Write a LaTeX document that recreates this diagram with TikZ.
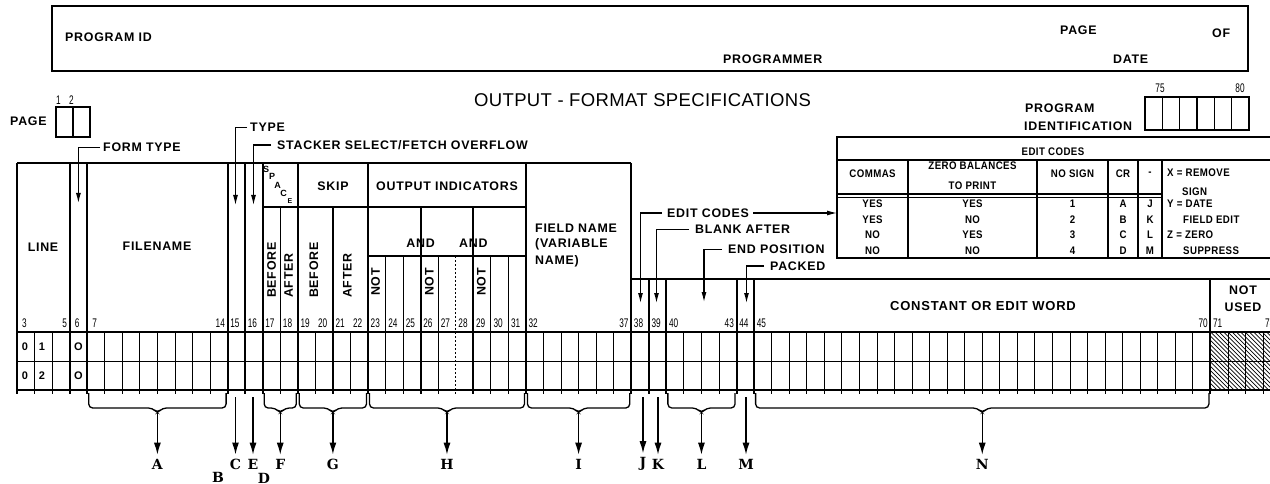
\documentclass[tikz,border=0pt]{standalone}
\usepackage{fontspec}
\setmainfont{Liberation Sans}
\newfontfamily\labf[LetterSpace=6]{Liberation Sans}
\newfontfamily\tblf[LetterSpace=4,FakeStretch=0.88]{Liberation Sans}
\newfontfamily\titf[LetterSpace=2]{Liberation Sans}
\newfontfamily\numf[FakeStretch=0.66]{Liberation Sans}
\newfontfamily\letf{DejaVu Serif}
\usetikzlibrary{arrows.meta}
\newcommand\colx[1]{(17+(#1-3)*17.55)}
\tikzset{
  lbl/.style={font=\labf\bfseries\fontsize{12.4}{14}\selectfont, inner sep=0pt},
  tbl/.style={font=\tblf\bfseries\fontsize{11}{12}\selectfont, inner sep=0pt},
  sml/.style={font=\labf\bfseries\fontsize{9}{10}\selectfont, inner sep=0pt},
  colnum/.style={font=\numf\fontsize{12.5}{13}\selectfont, inner sep=0pt},
  rowtxt/.style={font=\bfseries\fontsize{11}{12}\selectfont, inner sep=0pt},
  letr/.style={font=\letf\bfseries\fontsize{14}{15}\selectfont, inner sep=0pt},
  gthin/.style={line width=0.9pt},
  gmed/.style={line width=1.4pt},
  gthick/.style={line width=2pt},
  frame/.style={line width=1.7pt},
  sarrow/.style={line width=1.1pt, -{Latex[length=10pt,width=5pt]}},
  barrow/.style={line width=1.3pt, -{Latex[length=12pt,width=7pt]}, shorten >=4pt},
  brace/.style={line width=1.3pt},
}
\begin{document}
\begin{tikzpicture}[x=1pt,y=-1pt]
\useasboundingbox (0,0) rectangle (1270,484);
\clip (0,0) rectangle (1270,484);

% ---------- top box ----------
\draw[frame] (52,6) rectangle (1248,71);
\node[lbl, anchor=west] (progid) at (65,37.5) {PROGRAM ID};
\node[lbl, anchor=west] (programmer) at (723,59) {PROGRAMMER};
\node[lbl, anchor=west] (pagetop) at (1060,30) {PAGE};
\node[lbl, anchor=west] (oftop) at (1212,33) {OF};
\node[lbl, anchor=west] (date) at (1113,59) {DATE};

% ---------- title ----------
\node[font=\titf\fontsize{18.5}{20}\selectfont, inner sep=0pt] (title) at (642.5,100.5) {OUTPUT - FORMAT SPECIFICATIONS};

% ---------- page box ----------
\node[lbl, anchor=west] (pagel) at (10,121.7) {PAGE};
\draw[gmed] (56,107) rectangle (90,137);
\draw[gmed] (73,107) -- (73,137);
\node[colnum] (p1) at (58.5,100) {1};
\node[colnum] (p2) at (71.5,100) {2};

% ---------- program identification ----------
\node[lbl, anchor=west] (progidf1) at (1025,108.7) {PROGRAM};
\node[lbl, anchor=west] (progidf2) at (1024,126.7) {IDENTIFICATION};
\draw[gmed] (1145,97) rectangle (1249,130);
\foreach \i in {1,...,5} \draw[gmed] ({1145+\i*17.33},97) -- ({1145+\i*17.33},130);
\node[colnum] (n75) at (1160,88) {75};
\node[colnum] (n80) at (1240,88) {80};

% ---------- header frame ----------
\draw[gthick] (17,163) -- ({\colx{38}},163);
\draw[gthick] (17,163) -- (17,394);
\foreach \n in {6,7,15,16,17,19,23,32,38}
  \draw[gthick] ({\colx{\n}},163) -- ({\colx{\n}},394);
\draw[gmed] ({\colx{17}},207) -- ({\colx{32}},207);
\draw[gmed] ({\colx{23}},256) -- ({\colx{32}},256);
\draw[gthick] ({\colx{38}},279) -- (1275,279);
\foreach \n in {18,21} \draw[gmed] ({\colx{\n}},207) -- ({\colx{\n}},394);
\foreach \n in {26,29} \draw[gthick] ({\colx{\n}},207) -- ({\colx{\n}},394);
\foreach \n in {24,25,27,30,31} \draw[gthin] ({\colx{\n}},256) -- ({\colx{\n}},394);
\draw[gthin, dash pattern=on 2pt off 2pt] ({\colx{28}},256) -- ({\colx{28}},394);
\foreach \n in {39,40,44,45,71} \draw[gthick] ({\colx{\n}},279) -- ({\colx{\n}},394);

% ---------- grid ----------
\draw[gmed] (17,332) -- (1275,332);
\draw[gthin] (17,361) -- (1275,361);
\draw[gmed] (17,390) -- (1275,390);
\foreach \n in {4,5,8,9,10,11,12,13,14,20,22,33,34,35,36,37,41,42,43,46,47,48,49,50,51,52,53,54,55,56,57,58,59,60,61,62,63,64,65,66,67,68,69,70,72,73,74,75}
  \draw[gthin] ({\colx{\n}},332) -- ({\colx{\n}},394);
\begin{scope}
  \clip ({\colx{71}},332) rectangle (1275,390);
  \foreach \i in {0,4.3,...,140} \draw[line width=0.7pt] ({\colx{71}-60+\i},332) -- ({\colx{71}+\i},392);
\end{scope}

% ---------- column numbers ----------
\foreach \n in {3,6,7}
  \node[colnum, anchor=west] (cn\n) at ({\colx{\n}+5},323) {\n};
\foreach \n in {15,16,17,18,19,20,21,22,23,24,25,26,27,28,29,30,31,32,38,39,40,44,45,71}
  \node[colnum, anchor=west] (cn\n) at ({\colx{\n}+2.5},323) {\n};
\node[colnum, anchor=west] (cn74) at (1265,323) {74};
\foreach \n in {5,14,37,43,70}
  \node[colnum, anchor=east] (cn\n) at ({\colx{\n+1}-2.5},323) {\n};

% ---------- row entries ----------
\node[rowtxt] (r1a) at (25,346.5) {0};
\node[rowtxt] (r1b) at (42,346.5) {1};
\node[rowtxt] (r1c) at (78.4,346.5) {O};
\node[rowtxt] (r2a) at (25,375.5) {0};
\node[rowtxt] (r2b) at (42,375.5) {2};
\node[rowtxt] (r2c) at (78.4,375.5) {O};

% ---------- header labels ----------
\node[lbl] (line) at (43,247) {LINE};
\node[lbl] (filename) at (157,246) {FILENAME};
\node[sml] (sS) at (266,169) {S};
\node[sml] (sP) at (272,176.5) {P};
\node[sml] (sA) at (277.5,185.5) {A};
\node[sml] (sC) at (283.5,193.5) {C};
\node[sml, font=\labf\bfseries\fontsize{7}{8}\selectfont] (sE) at (290,201) {E};
\node[lbl] (skip) at (333,186) {SKIP};
\node[lbl] (outind) at (447,186) {OUTPUT INDICATORS};
\node[lbl] (and1) at ({\colx{26}},243) {AND};
\node[lbl] (and2) at ({\colx{29}},243) {AND};
\node[lbl, rotate=90, anchor=west] (bef1) at ({\colx{17}+8.8},298) {BEFORE};
\node[lbl, rotate=90, anchor=west] (aft1) at ({\colx{18}+8.3},298) {AFTER};
\node[lbl, rotate=90, anchor=west] (bef2) at ({\colx{20}-1.5},298) {BEFORE};
\node[lbl, rotate=90, anchor=west] (aft2) at ({\colx{22}-3},298) {AFTER};
\node[lbl, rotate=90, anchor=west] (not1) at ({\colx{23}+7.5},296) {NOT};
\node[lbl, rotate=90, anchor=west] (not2) at ({\colx{26}+8.8},296) {NOT};
\node[lbl, rotate=90, anchor=west] (not3) at ({\colx{29}+8},296) {NOT};
\node[lbl, anchor=west] (fn1) at (535,228) {FIELD NAME};
\node[lbl, anchor=west] (fn2) at (535,244.5) {(VARIABLE};
\node[lbl, anchor=west] (fn3) at (535,261) {NAME)};
\node[lbl, font=\labf\bfseries\fontsize{13}{14}\selectfont] (const) at (983,306) {CONSTANT OR EDIT WORD};
\node[lbl] (notu1) at (1243,290) {NOT};
\node[lbl] (notu2) at (1243,307) {USED};

% ---------- header arrows ----------
\node[lbl, anchor=west] (formtype) at (103,147.5) {FORM TYPE};
\coordinate (ftTip) at (78.4,203);
\draw[sarrow] ([xshift=-3pt]formtype.west) -| (ftTip);
\node[lbl, anchor=west] (type) at (250,127.5) {TYPE};
\coordinate (tyTip) at (235.5,205);
\draw[sarrow] ([xshift=-3pt]type.west) -| (tyTip);
\node[lbl, anchor=west] (stacker) at (277,145) {STACKER SELECT/FETCH OVERFLOW};
\coordinate (stTip) at (253.5,205);
\draw[sarrow] ([xshift=-6pt]stacker.west) -| (stTip);

\node[lbl, anchor=west] (editlbl) at (667,213) {EDIT CODES};
\coordinate (edTip) at (640.5,303);
\draw[sarrow] ([xshift=-5pt]editlbl.west) -| (edTip);
\coordinate (tblW) at (837,213);
\draw[sarrow] ([xshift=4pt]editlbl.east) -- (tblW);
\node[lbl, anchor=west] (blank) at (695,229.5) {BLANK AFTER};
\coordinate (blTip) at (656.5,303);
\draw[sarrow] ([xshift=-6pt]blank.west) -| (blTip);
\node[lbl, anchor=west] (endpos) at (728,249.5) {END POSITION};
\coordinate (epTip) at (704,302);
\draw[sarrow] ([xshift=-6pt]endpos.west) -| (epTip);
\node[lbl, anchor=west] (packed) at (770,266) {PACKED};
\coordinate (pkTip) at (746.5,303);
\draw[sarrow] ([xshift=-6pt]packed.west) -| (pkTip);

% ---------- edit codes table ----------
\draw[frame] (837,137) rectangle (1290,258);
\draw[gmed] (837,160) -- (1290,160);
\draw[gmed] (837,194) -- (1162,194);
\draw[gmed] (837,197.5) -- (1162,197.5);
\foreach \x in {908,1037,1108,1138,1162} \draw[gmed] (\x,160) -- (\x,258);
\node[tbl] (ectitle) at (1053,152) {EDIT CODES};
\node[tbl] (hcom) at (872.5,174) {COMMAS};
\node[tbl] (hzero1) at (972.5,166) {ZERO BALANCES};
\node[tbl] (hzero2) at (972.5,185.5) {TO PRINT};
\node[tbl] (hns) at (1072.5,174) {NO SIGN};
\node[tbl] (hcr) at (1123,174) {CR};
\node[tbl] (hmin) at (1150,174) {-};
\node[tbl, anchor=west] (xr) at (1167,173) {X = REMOVE};
\node[tbl, anchor=west] (xr2) at (1182,191.5) {SIGN};
\node[tbl, anchor=west] (yd) at (1167,204) {Y = DATE};
\node[tbl, anchor=west] (yd2) at (1183,220) {FIELD EDIT};
\node[tbl, anchor=west] (zz) at (1167,235) {Z = ZERO};
\node[tbl, anchor=west] (zz2) at (1183,250.5) {SUPPRESS};
\foreach \y/\a/\b/\c/\d/\e in {204/YES/YES/1/A/J, 220/YES/NO/2/B/K, 235/NO/YES/3/C/L, 250.5/NO/NO/4/D/M} {
  \node[tbl] (ca\c) at (872.5,\y) {\a};
  \node[tbl] (cb\c) at (972.5,\y) {\b};
  \node[tbl] (cc\c) at (1072.5,\y) {\c};
  \node[tbl] (cd\c) at (1123,\y) {\d};
  \node[tbl] (ce\c) at (1150,\y) {\e};
}

% ---------- bottom braces and letters ----------
\foreach \a/\b/\L in {7/15/A,17/19/F,19/23/G,23/32/H,32/38/I,40/44/L,45/71/N} {
  \pgfmathsetmacro\xa{\colx{\a}+1.5}
  \pgfmathsetmacro\xb{\colx{\b}-1.5}
  \pgfmathsetmacro\xm{(\xa+\xb)/2}
  \draw[brace] (\xa,393) [rounded corners=4pt] -- (\xa,408) -- (\xm-5,408) -- (\xm,413) -- (\xm+5,408) -- (\xb,408) -- (\xb,393);
  \coordinate (br\L) at (\xm,413);
  \node[letr] (l\L) at (\xm,464) {\L};
  \draw[barrow] (br\L) -- (l\L);
}
\foreach \x/\L in {235.5/C,253/E,643/J,658/K,746/M} {
  \coordinate (s\L) at (\x,397);
  \node[letr] (l\L) at (\x,464) {\L};
  \draw[barrow] (s\L) -- (l\L);
}
\node[letr] (lB) at (218,477.5) {B};
\node[letr] (lD) at (264,478) {D};
\end{tikzpicture}
\end{document}
